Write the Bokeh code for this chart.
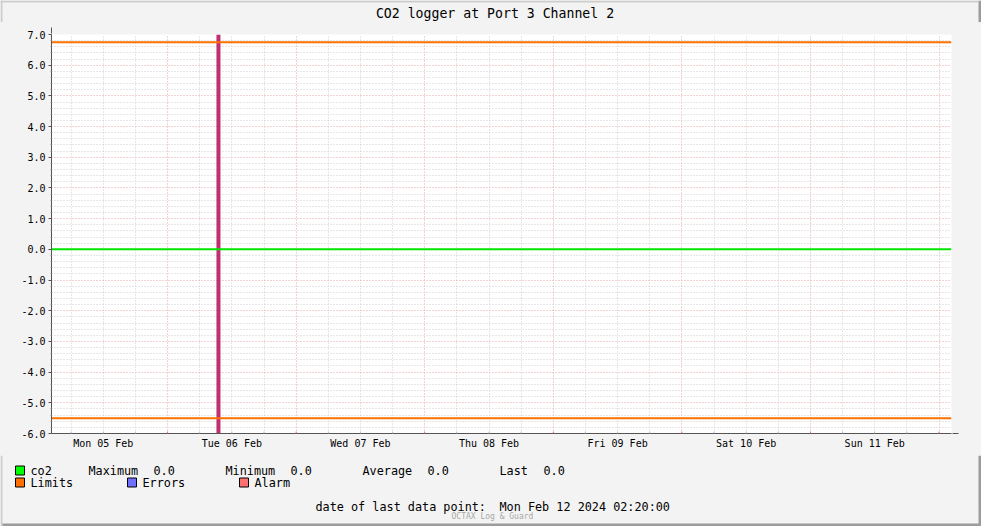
import numpy as np
import pandas as pd
from bokeh.plotting import figure
from bokeh.layouts import column
from bokeh.core.properties import value
from bokeh.models import Range1d, FixedTicker, NumeralTickFormatter, Arrow, NormalHead
from bokeh.embed import file_html
from bokeh.resources import INLINE

# ---------------- data ----------------
title_text = "CO2 logger at Port 3 Channel 2"
x_start = "2024-02-05 02:20:00"
x_end = "2024-02-12 02:20:00"
day_label_times = ["2024-02-05 12:00", "2024-02-06 12:00", "2024-02-07 12:00",
                   "2024-02-08 12:00", "2024-02-09 12:00", "2024-02-10 12:00",
                   "2024-02-11 12:00"]
day_labels = ["Mon 05 Feb", "Tue 06 Feb", "Wed 07 Feb", "Thu 08 Feb",
              "Fri 09 Feb", "Sat 10 Feb", "Sun 11 Feb"]
co2_times = ["2024-02-05 02:20:00", "2024-02-12 02:20:00"]
co2_values = [0.0, 0.0]
limit_high = 6.75
limit_low = -5.5
event_time = "2024-02-06 09:30:00"
y_min, y_max = -6.0, 7.0
stat_names = ["Maximum", "Minimum", "Average", "Last"]
stat_values = [0.0, 0.0, 0.0, 0.0]
legend_names = ["co2", "Limits", "Errors", "Alarm"]
legend_colors = ["#00FF00", "#FF7000", "#7070FF", "#FF7070"]
last_point_label = "date of last data point:"
last_point_time = "Mon Feb 12 2024 02:20:00"
watermark = "OCTAX Log & Guard"

BG = "#F3F3F3"
LIGHT = "#CDCDCD"
DARK = "#9C9C9C"
FONT = value("DejaVu Sans Mono")
W, H = 981, 526
HEAD_H, MAIN_H = 22, 433


def ms(s):
    return int(pd.Timestamp(s).value // 10**6)


def strip(y0, y1):
    f = figure(width=W, height=y1 - y0, output_backend="svg", toolbar_location=None,
               x_range=Range1d(0, W), y_range=Range1d(y1, y0),
               x_axis_location=None, y_axis_location=None,
               min_border_left=0, min_border_right=0, min_border_top=0, min_border_bottom=0,
               border_fill_color=BG, background_fill_color=BG, outline_line_color=None,
               frame_align=False, styles={"background-color": BG})
    f.xgrid.visible = False
    f.ygrid.visible = False
    # outer frame of the image
    f.quad(left=[0], right=[2], top=[y0], bottom=[y1], fill_color=LIGHT, line_color=None)
    f.quad(left=[W - 3], right=[W], top=[y0], bottom=[y1], fill_color=DARK, line_color=None)
    return f


# ---------------- title strip ----------------
head = strip(0, HEAD_H)
head.quad(left=[0], right=[W - 3], top=[0], bottom=[2], fill_color=LIGHT, line_color=None)
head.text(x=[494.5], y=[13], text=[title_text], text_font=FONT, text_font_size="13.2px",
          text_align="center", text_baseline="middle", text_color="#000000")

# ---------------- main chart ----------------
p = figure(width=W, height=MAIN_H, output_backend="svg", toolbar_location=None,
           x_axis_type="datetime",
           x_range=Range1d(ms(x_start), ms(x_end)),
           y_range=Range1d(y_min, y_max),
           min_border_left=51, min_border_right=30,
           min_border_top=12, min_border_bottom=22,
           border_fill_color=BG, background_fill_color="#FFFFFF",
           outline_line_color=None, frame_align=False,
           styles={"background-color": BG})

midnights = [ms(t) for t in pd.date_range("2024-02-05", "2024-02-12", freq="D")]
six_hours = [ms(t) for t in pd.date_range("2024-02-05", "2024-02-12 06:00", freq="6h")]
six_hours = [t for t in six_hours if t not in midnights]
p.xgrid.ticker = FixedTicker(ticks=midnights, minor_ticks=six_hours)
p.xgrid.grid_line_color = "#E4A4A4"
p.xgrid.grid_line_dash = "1 2"
p.xgrid.minor_grid_line_color = "#CFCFCF"
p.xgrid.minor_grid_line_dash = "1 2"

y_major = [float(v) for v in np.arange(y_min, y_max + 0.5, 1.0)]
y_minor = [round(float(v), 1) for v in np.arange(y_min, y_max + 0.01, 0.2)]
y_minor = [v for v in y_minor if v not in y_major]
p.ygrid.ticker = FixedTicker(ticks=y_major, minor_ticks=y_minor)
p.ygrid.grid_line_color = "#E4A4A4"
p.ygrid.grid_line_dash = "1 2"
p.ygrid.minor_grid_line_color = "#CFCFCF"
p.ygrid.minor_grid_line_dash = "1 2"

label_ms = [ms(t) for t in day_label_times]
p.xaxis.ticker = FixedTicker(ticks=label_ms, minor_ticks=[])
p.xaxis.major_label_overrides = {t: l for t, l in zip(label_ms, day_labels)}
p.xaxis.major_tick_out = 0
p.xaxis.major_tick_in = 0
p.xaxis.minor_tick_out = 0
p.xaxis.minor_tick_in = 0
p.xaxis.major_label_standoff = 4
p.xaxis.axis_line_color = "#555555"

p.yaxis.ticker = FixedTicker(ticks=y_major, minor_ticks=y_minor)
p.yaxis.formatter = NumeralTickFormatter(format="0.0")
p.yaxis.major_tick_out = 3
p.yaxis.major_tick_in = 0
p.yaxis.minor_tick_out = 1
p.yaxis.minor_tick_in = 0
p.yaxis.major_tick_line_color = "#555555"
p.yaxis.minor_tick_line_color = "#999999"
p.yaxis.major_label_standoff = 3
p.yaxis.axis_line_color = "#555555"

for ax in (p.xaxis, p.yaxis):
    ax.major_label_text_font = "DejaVu Sans Mono"
    ax.major_label_text_font_size = "10px"
    ax.major_label_text_color = "#000000"

# small tick marks across the time axis
tick_half = 2.0 / 30.7
for t in midnights[1:]:
    p.add_layout(Arrow(x_start=t, x_end=t, y_start=y_min - tick_half, y_end=y_min + tick_half,
                       line_color="#E07070", line_width=1, end=None))
for t in six_hours:
    p.add_layout(Arrow(x_start=t, x_end=t, y_start=y_min - tick_half, y_end=y_min + tick_half,
                       line_color="#B8B8B8", line_width=1, end=None))

p.segment(x0=[ms(event_time)], y0=[y_min], x1=[ms(event_time)], y1=[y_max],
          line_color="#C03070", line_width=4)
p.line([ms(t) for t in co2_times], co2_values, line_color="#00E600", line_width=2)
p.line([ms(x_start), ms(x_end)], [limit_high, limit_high], line_color="#FF7000", line_width=2)
p.line([ms(x_start), ms(x_end)], [limit_low, limit_low], line_color="#FF7000", line_width=2)

ARROW = "#A02020"
p.add_layout(Arrow(x_start=0, y_start=399, x_end=0, y_end=406,
                   start_units="screen", end_units="screen",
                   line_color="#555555", line_width=1,
                   end=NormalHead(size=6, fill_color=ARROW, line_color=ARROW)))
p.add_layout(Arrow(x_start=900, y_start=0, x_end=907, y_end=0,
                   start_units="screen", end_units="screen",
                   line_color="#555555", line_width=1,
                   end=NormalHead(size=6, fill_color=ARROW, line_color=ARROW)))
# outer image frame beside the chart
p.add_layout(Arrow(x_start=-50, y_start=-30, x_end=-50, y_end=420, start_units="screen",
                   end_units="screen", line_color=LIGHT, line_width=2, end=None))
p.add_layout(Arrow(x_start=928.5, y_start=-30, x_end=928.5, y_end=420, start_units="screen",
                   end_units="screen", line_color=DARK, line_width=3, end=None))

# ---------------- legend / footer strip ----------------
F0 = HEAD_H + MAIN_H
foot = strip(F0, H)
foot.quad(left=[2], right=[W], top=[H - 3], bottom=[H], fill_color=DARK, line_color=None)
txt = dict(text_font=FONT, text_font_size="11.8px", text_align="left",
           text_baseline="middle", text_color="#000000")

sq_x = [15, 15, 127, 239]
sq_y = [465.5, 477.5, 477.5, 477.5]
foot.quad(left=sq_x, right=[v + 9 for v in sq_x], top=sq_y, bottom=[v + 9 for v in sq_y],
          fill_color=legend_colors, line_color="#000000", line_width=1)

name_x = [30, 30, 142, 254]
name_y = [470, 482, 482, 482]
foot.text(x=name_x, y=name_y, text=legend_names, **txt)

stat_name_x = [88, 225, 362, 499]
stat_val_x = [153, 290, 427, 543]
foot.text(x=stat_name_x, y=[470] * 4, text=stat_names, **txt)
foot.text(x=stat_val_x, y=[470] * 4, text=[f"{v:.1f}" for v in stat_values], **txt)

foot.text(x=[315, 499], y=[506, 506], text=[last_point_label, last_point_time], **txt)
foot.text(x=[451], y=[516], text=[watermark], text_font=FONT, text_font_size="8px",
          text_align="left", text_baseline="middle", text_color="#A8A8A8")

layout = column(head, p, foot, spacing=0, styles={"background-color": BG})
open("out.html", "w").write(file_html(layout, INLINE))
